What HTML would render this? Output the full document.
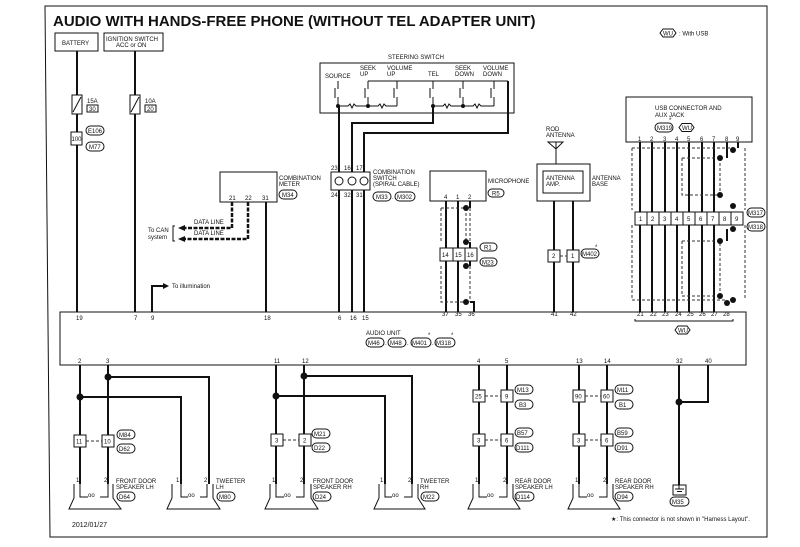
<!DOCTYPE html>
<html><head><meta charset="utf-8"><style>
body{margin:0;background:#fff}
svg{display:block}
text{font-family:"Liberation Sans",sans-serif;fill:#111}
.s{font-size:6px}
.p{font-size:6px}
.w{stroke:#111;stroke-width:2;fill:none}
.t{stroke:#111;stroke-width:1;fill:none}
.d{stroke:#333;stroke-width:1;fill:none;stroke-dasharray:3,2}
.b{fill:#fff;stroke:#111;stroke-width:1}
.o{fill:#fff;stroke:#111;stroke-width:1}
</style></head><body>
<svg width="800" height="547" viewBox="0 0 800 547" xmlns="http://www.w3.org/2000/svg">
<rect x="0" y="0" width="800" height="547" fill="#fff"/>
<path d="M45 6 H767 V537 H50 Z" class="t"/>
<text x="53" y="26" style="font-size:15px;font-weight:bold">AUDIO WITH HANDS-FREE PHONE (WITHOUT TEL ADAPTER UNIT)</text>
<!-- legend -->
<path d="M660 33 l3 -4 h10 l3 4 l-3 4 h-10 z" class="o"/><text x="663" y="35.5" class="s">WU</text><text x="679" y="35.5" class="s">: With USB</text>
<!-- battery/ignition -->
<rect x="55" y="33" width="43" height="18" class="b"/><text x="62" y="45" class="s">BATTERY</text>
<rect x="104" y="33" width="59" height="18" class="b"/><text x="106" y="41" class="s">IGNITION SWITCH</text><text x="116" y="47" class="s">ACC or ON</text>
<path d="M77 51 V312 M135 51 V312" class="w"/>
<rect x="72" y="95" width="10" height="19" class="b"/><path d="M73 112 L81 97" class="t"/>
<rect x="130" y="95" width="10" height="19" class="b"/><path d="M131 112 L139 97" class="t"/>
<text x="87" y="103" class="s">15A</text><rect x="87" y="105" width="11" height="7" class="b"/><text x="89" y="111" class="s">30</text>
<text x="145" y="103" class="s">10A</text><rect x="145" y="105" width="11" height="7" class="b"/><text x="147" y="111" class="s">20</text>
<rect x="71" y="132" width="11" height="13" class="b"/><text x="71.5" y="141" class="s">100</text>
<rect x="86" y="126" width="18" height="9" rx="4.5" class="o"/><text x="88" y="133" class="s">E106</text>
<rect x="86" y="142" width="18" height="9" rx="4.5" class="o"/><text x="89" y="149" class="s">M77</text>
<!-- illumination -->
<path d="M152 312 V286 H163" class="w"/><path d="M163 283 L169 286 L163 289 Z" fill="#111"/><text x="172" y="288" class="s">To illumination</text>
<!-- combination meter -->
<rect x="220" y="172" width="57" height="30" class="b"/>
<text x="229" y="200" class="s">21</text><text x="245" y="200" class="s">22</text><text x="262" y="200" class="s">31</text>
<text x="279" y="180" class="s">COMBINATION</text><text x="279" y="186" class="s">METER</text>
<rect x="279" y="190" width="18" height="9" rx="4.5" class="o"/><text x="282" y="197" class="s">M34</text>
<path d="M266 202 V312" class="w"/>
<path d="M232 202 V228 H185 M248 202 V239 H185" stroke="#111" stroke-width="2.5" fill="none" stroke-dasharray="4,1.5"/>
<path d="M178 228 L185 225 V231 Z M178 239 L185 236 V242 Z" fill="#111"/>
<text x="194" y="224" class="s">DATA LINE</text><text x="194" y="235" class="s">DATA LINE</text>
<text x="148" y="232" class="s">To CAN</text><text x="148" y="239" class="s">system</text><path d="M175 226 h-2 v15 h2" class="t"/>
<!-- steering switch -->
<text x="388" y="59" class="s">STEERING SWITCH</text>
<rect x="320" y="63" width="194" height="50" class="b"/>
<text x="325" y="78" class="s">SOURCE</text><text x="360" y="70" class="s">SEEK</text><text x="360" y="76" class="s">UP</text>
<text x="387" y="70" class="s">VOLUME</text><text x="387" y="76" class="s">UP</text><text x="428" y="76" class="s">TEL</text>
<text x="455" y="70" class="s">SEEK</text><text x="455" y="76" class="s">DOWN</text><text x="483" y="70" class="s">VOLUME</text><text x="483" y="76" class="s">DOWN</text>
<path d="M368 81 H508 M338 81 V86 M368 81 V86 M397 81 V86 M433 81 V86 M463 81 V86 M494 81 V86" class="t"/>
<g class="t">
<path d="M338 86 v3 M338 97 v9 M335 88 v10"/><path d="M368 86 v3 M368 97 v9 M365 88 v10"/><path d="M397 86 v3 M397 97 v9 M394 88 v10"/>
<path d="M433 86 v3 M433 97 v9 M430 88 v10"/><path d="M463 86 v3 M463 97 v9 M460 88 v10"/><path d="M494 86 v3 M494 97 v9 M491 88 v10"/>
<path d="M338 106 H348 l2 -2 l2 4 l2 -4 l2 2 H368 H378 l2 -2 l2 4 l2 -4 l2 2 H397 M433 106 H443 l2 -2 l2 4 l2 -4 l2 2 H463 H473 l2 -2 l2 4 l2 -4 l2 2 H494"/>
</g>
<g fill="#111"><circle cx="338" cy="106" r="2"/><circle cx="368" cy="106" r="2"/><circle cx="433" cy="106" r="2"/><circle cx="463" cy="106" r="2"/></g>
<path d="M339 106 V172 M352 172 V123 H433 V106 M364 172 V133 H508 V81" class="w"/>
<!-- combination switch -->
<rect x="331" y="172" width="39" height="18" class="b"/>
<circle cx="339" cy="181" r="4" class="o"/><circle cx="352" cy="181" r="4" class="o"/><circle cx="364" cy="181" r="4" class="o"/>
<text x="331" y="170" class="s">23</text><text x="344" y="170" class="s">16</text><text x="356" y="170" class="s">17</text>
<text x="331" y="197" class="s">24</text><text x="344" y="197" class="s">32</text><text x="356" y="197" class="s">31</text>
<text x="373" y="174" class="s">COMBINATION</text><text x="373" y="180" class="s">SWITCH</text><text x="373" y="186" class="s">(SPIRAL CABLE)</text>
<rect x="373" y="192" width="18" height="9" rx="4.5" class="o"/><text x="376" y="199" class="s">M33</text><text x="392" y="199" class="s">.</text>
<rect x="395" y="192" width="20" height="9" rx="4.5" class="o"/><text x="397" y="199" class="s">M302</text>
<path d="M339 190 V312 M352 190 V312 M364 190 V312" class="w"/>
<!-- microphone -->
<rect x="430" y="171" width="56" height="30" class="b"/>
<text x="444" y="199" class="s">4</text><text x="456" y="199" class="s">1</text><text x="468" y="199" class="s">2</text>
<text x="488" y="183" class="s">MICROPHONE</text><rect x="488" y="189" width="16" height="8" rx="4" class="o"/><text x="492" y="195.5" class="s">R5</text>
<path d="M446 201 V312 M458 201 V312 M470 201 V208 M470 242 V266 M470 302 H474 V312" class="w"/>
<path d="M470 208 V242 M441 208 H466 V242 M441 208 V242 M441 266 V302 H466 M470 266 V302" class="d"/>
<g fill="#111"><circle cx="466" cy="208" r="3"/><circle cx="466" cy="242" r="3"/><circle cx="466" cy="266" r="3"/><circle cx="466" cy="302" r="3"/></g>
<rect x="440" y="248" width="13" height="13" class="b"/><rect x="453" y="248" width="12" height="13" class="b"/><rect x="465" y="248" width="12" height="13" class="b"/>
<text x="442" y="257" class="s">14</text><text x="455" y="257" class="s">15</text><text x="467" y="257" class="s">16</text>
<rect x="480" y="243" width="17" height="8" rx="4" class="o"/><text x="484" y="249.5" class="s">R1</text>
<rect x="480" y="258" width="17" height="8" rx="4" class="o"/><text x="482" y="264.5" class="s">M23</text>
<!-- antenna -->
<text x="546" y="131" class="s">ROD</text><text x="546" y="137" class="s">ANTENNA</text>
<path d="M548 142 H563 L556 149 Z" class="t"/><path d="M556 142 V164" class="t"/>
<rect x="537" y="164" width="53" height="37" class="b"/><rect x="543" y="171" width="40" height="22" class="b"/>
<text x="546" y="180" class="s">ANTENNA</text><text x="546" y="186" class="s">AMP.</text>
<text x="592" y="180" class="s">ANTENNA</text><text x="592" y="186" class="s">BASE</text>
<path d="M554 201 V312 M573 201 V312" class="w"/>
<rect x="548" y="250" width="12" height="12" class="b"/><text x="552" y="258" class="s">2</text>
<rect x="567" y="250" width="12" height="12" class="b"/><text x="571" y="258" class="s">1</text><path d="M560 256 h7" class="d"/>
<rect x="581" y="249" width="18" height="9" rx="4.5" class="o"/><text x="582" y="256" class="s">M402</text><text x="595" y="249" class="s">*</text>
<!-- USB -->
<rect x="626" y="97" width="126" height="45" class="b"/>
<text x="655" y="110" class="s">USB CONNECTOR AND</text><text x="655" y="117" class="s">AUX JACK</text>
<rect x="655" y="123" width="18" height="9" rx="4.5" class="o"/><text x="657" y="130" class="s">M319</text><text x="669" y="122" class="s">*</text>
<path d="M679 127.5 l3 -4 h9 l3 4 l-3 4 h-9 z" class="o"/><text x="682" y="130" class="s">WU</text>
<g class="s"><text x="638" y="141">1</text><text x="650" y="141">2</text><text x="663" y="141">3</text><text x="675" y="141">4</text><text x="687" y="141">5</text><text x="700" y="141">6</text><text x="712" y="141">7</text><text x="725" y="141">8</text><text x="736" y="141">9</text></g>
<path d="M640 142 V312 M652 142 V312 M665 142 V312 M677 142 V312 M689 142 V312 M702 142 V312 M714 142 V312 M727 142 V158 M738 142 V148 M727 229 V241" class="w"/>
<path d="M632 148 H733 M632 148 V210 M745 148 V210 M682 158 H720 M682 158 V195 H720 M720 158 V195 M632 225 V300 M745 225 V300 M682 241 H720 V296 M682 241 V296 H720 M632 300 H726" class="d"/>
<g fill="#111"><circle cx="733" cy="150" r="3"/><circle cx="720" cy="158" r="3"/><circle cx="720" cy="195" r="3"/><circle cx="733" cy="206" r="3"/><circle cx="733" cy="229" r="3"/><circle cx="720" cy="241" r="3"/><circle cx="720" cy="296" r="3"/><circle cx="733" cy="300" r="3"/><circle cx="727" cy="303" r="3"/></g>
<g class="b"><rect x="635" y="212" width="12" height="13"/><rect x="647" y="212" width="12" height="13"/><rect x="659" y="212" width="12" height="13"/><rect x="671" y="212" width="12" height="13"/><rect x="683" y="212" width="12" height="13"/><rect x="695" y="212" width="12" height="13"/><rect x="707" y="212" width="12" height="13"/><rect x="719" y="212" width="12" height="13"/><rect x="731" y="212" width="12" height="13"/></g>
<g class="s"><text x="639" y="221">1</text><text x="651" y="221">2</text><text x="663" y="221">3</text><text x="675" y="221">4</text><text x="687" y="221">5</text><text x="699" y="221">6</text><text x="711" y="221">7</text><text x="723" y="221">8</text><text x="735" y="221">9</text></g>
<rect x="747" y="208" width="18" height="9" rx="4.5" class="o"/><text x="748" y="215" class="s">M317</text>
<rect x="747" y="222" width="18" height="9" rx="4.5" class="o"/><text x="748" y="229" class="s">M318</text>
<!-- audio unit -->
<rect x="60" y="312" width="686" height="53" class="b"/>
<g class="p"><text x="76" y="320">19</text><text x="134" y="320">7</text><text x="151" y="320">9</text><text x="264" y="320">18</text><text x="338" y="320">6</text><text x="350" y="320">16</text><text x="362" y="320">15</text><text x="442" y="316">37</text><text x="455" y="316">35</text><text x="468" y="316">36</text><text x="551" y="316">41</text><text x="570" y="316">42</text>
<text x="637" y="316">21</text><text x="650" y="316">22</text><text x="662" y="316">23</text><text x="675" y="316">24</text><text x="687" y="316">25</text><text x="699" y="316">26</text><text x="711" y="316">27</text><text x="723" y="316">28</text>
<text x="78" y="363">2</text><text x="106" y="363">3</text><text x="274" y="363">11</text><text x="302" y="363">12</text><text x="477" y="363">4</text><text x="505" y="363">5</text><text x="576" y="363">13</text><text x="604" y="363">14</text><text x="676" y="363">32</text><text x="705" y="363">40</text></g>
<path d="M635 319 v2 H733 v-2" class="t"/>
<path d="M675 330 l3 -4 h9 l3 4 l-3 4 h-9 z" class="o"/><text x="678" y="332.5" class="s">WU</text>
<text x="366" y="335" class="s">AUDIO UNIT</text>
<rect x="366" y="338" width="18" height="9" rx="4.5" class="o"/><text x="368" y="345" class="s">M46</text><text x="385" y="345" class="s">.</text>
<rect x="388" y="338" width="18" height="9" rx="4.5" class="o"/><text x="390" y="345" class="s">M48</text><text x="407" y="345" class="s">.</text>
<rect x="411" y="338" width="20" height="9" rx="4.5" class="o"/><text x="412" y="345" class="s">M401</text><text x="428" y="337" class="s">*</text><text x="432" y="345" class="s">.</text>
<rect x="435" y="338" width="20" height="9" rx="4.5" class="o"/><text x="436" y="345" class="s">M318</text><text x="451" y="337" class="s">*</text>
<!-- front LH -->
<path d="M80 365 V484 M108 365 V484 M80 397 H181 V484 M108 377 H209 V484" class="w"/>
<g fill="#111"><circle cx="80" cy="397" r="3.5"/><circle cx="108" cy="377" r="3.5"/><circle cx="276" cy="396" r="3.5"/><circle cx="304" cy="376" r="3.5"/><circle cx="679" cy="402" r="3.5"/></g>
<rect x="74" y="435" width="12" height="12" class="b"/><text x="76" y="443.5" class="s">11</text>
<rect x="102" y="435" width="12" height="12" class="b"/><text x="104" y="443.5" class="s">10</text><path d="M86 441 h16" class="d"/>
<rect x="117" y="430" width="18" height="9" rx="4.5" class="o"/><text x="119" y="437" class="s">M84</text>
<rect x="117" y="444" width="18" height="9" rx="4.5" class="o"/><text x="119" y="451" class="s">D62</text>
<!-- front RH -->
<path d="M276 365 V484 M304 365 V484 M276 396 H385 V484 M304 376 H412 V484" class="w"/>
<rect x="271" y="434" width="12" height="12" class="b"/><text x="275" y="442.5" class="s">3</text>
<rect x="299" y="434" width="12" height="12" class="b"/><text x="303" y="442.5" class="s">2</text><path d="M283 440 h16" class="d"/>
<rect x="312" y="429" width="18" height="9" rx="4.5" class="o"/><text x="314" y="436" class="s">M21</text>
<rect x="312" y="443" width="18" height="9" rx="4.5" class="o"/><text x="314" y="450" class="s">D22</text>
<!-- rear LH -->
<path d="M479 365 V484 M507 365 V484" class="w"/>
<rect x="473" y="390" width="12" height="12" class="b"/><text x="475" y="398.5" class="s">25</text>
<rect x="501" y="390" width="12" height="12" class="b"/><text x="505" y="398.5" class="s">9</text><path d="M485 396 h16" class="d"/>
<rect x="515" y="385" width="18" height="9" rx="4.5" class="o"/><text x="517" y="392" class="s">M13</text>
<rect x="515" y="400" width="18" height="9" rx="4.5" class="o"/><text x="519" y="407" class="s">B3</text>
<rect x="473" y="434" width="12" height="12" class="b"/><text x="477" y="442.5" class="s">3</text>
<rect x="501" y="434" width="12" height="12" class="b"/><text x="505" y="442.5" class="s">6</text><path d="M485 440 h16" class="d"/>
<rect x="515" y="428" width="18" height="9" rx="4.5" class="o"/><text x="517" y="435" class="s">B57</text>
<rect x="515" y="443" width="18" height="9" rx="4.5" class="o"/><text x="516" y="450" class="s">D111</text>
<!-- rear RH -->
<path d="M579 365 V484 M607 365 V484" class="w"/>
<rect x="573" y="390" width="12" height="12" class="b"/><text x="575" y="398.5" class="s">90</text>
<rect x="601" y="390" width="12" height="12" class="b"/><text x="603" y="398.5" class="s">60</text><path d="M585 396 h16" class="d"/>
<rect x="615" y="385" width="18" height="9" rx="4.5" class="o"/><text x="617" y="392" class="s">M11</text>
<rect x="615" y="400" width="18" height="9" rx="4.5" class="o"/><text x="619" y="407" class="s">B1</text>
<rect x="573" y="434" width="12" height="12" class="b"/><text x="577" y="442.5" class="s">3</text>
<rect x="601" y="434" width="12" height="12" class="b"/><text x="605" y="442.5" class="s">6</text><path d="M585 440 h16" class="d"/>
<rect x="615" y="428" width="18" height="9" rx="4.5" class="o"/><text x="617" y="435" class="s">B59</text>
<rect x="615" y="443" width="18" height="9" rx="4.5" class="o"/><text x="617" y="450" class="s">D91</text>
<!-- ground -->
<path d="M679 365 V485 M708 365 V402 H679" class="w"/>
<rect x="673" y="485" width="13" height="10" class="b"/><path d="M675 489 h9 M677 491.5 h5 M679 485 v4" class="t"/>
<rect x="670" y="497" width="19" height="9" rx="4.5" class="o"/><text x="672" y="504" class="s">M35</text>
<!-- speakers -->
<g class="t">
<path d="M74 484 V498 L69 509 H121 L113 498 V484"/><path d="M80 484 V497 H88 M100 497 H108 V484"/>
<path d="M172 484 V498 L167 509 H220 L213 498 V484"/><path d="M181 484 V497 H188 M200 497 H207 V484"/>
<path d="M270 484 V498 L265 509 H318 L311 498 V484"/><path d="M276 484 V497 H284 M296 497 H304 V484"/>
<path d="M379 484 V498 L374 509 H425 L418 498 V484"/><path d="M385 484 V497 H392 M404 497 H412 V484"/>
<path d="M473 484 V498 L468 509 H520 L513 498 V484"/><path d="M479 484 V497 H487 M499 497 H507 V484"/>
<path d="M573 484 V498 L568 509 H620 L613 498 V484"/><path d="M579 484 V497 H587 M599 497 H607 V484"/>
</g>
<g class="s">
<text x="88" y="497">oo</text><text x="188" y="497">oo</text><text x="284" y="497">oo</text><text x="392" y="497">oo</text><text x="487" y="497">oo</text><text x="587" y="497">oo</text>
<text x="76" y="482">1</text><text x="104" y="482">2</text><text x="176" y="482">1</text><text x="204" y="482">2</text><text x="272" y="482">1</text><text x="300" y="482">2</text><text x="380" y="482">1</text><text x="408" y="482">2</text><text x="475" y="482">1</text><text x="503" y="482">2</text><text x="575" y="482">1</text><text x="603" y="482">2</text>
<text x="116" y="483">FRONT DOOR</text><text x="116" y="489">SPEAKER LH</text>
<text x="216" y="483">TWEETER</text><text x="216" y="489">LH</text>
<text x="313" y="483">FRONT DOOR</text><text x="313" y="489">SPEAKER RH</text>
<text x="420" y="483">TWEETER</text><text x="420" y="489">RH</text>
<text x="515" y="483">REAR DOOR</text><text x="515" y="489">SPEAKER LH</text>
<text x="615" y="483">REAR DOOR</text><text x="615" y="489">SPEAKER RH</text>
</g>
<rect x="117" y="492" width="18" height="9" rx="4.5" class="o"/><text x="119" y="499" class="s">D64</text>
<rect x="217" y="492" width="18" height="9" rx="4.5" class="o"/><text x="219" y="499" class="s">M80</text>
<rect x="313" y="492" width="18" height="9" rx="4.5" class="o"/><text x="315" y="499" class="s">D24</text>
<rect x="421" y="492" width="18" height="9" rx="4.5" class="o"/><text x="423" y="499" class="s">M22</text>
<rect x="515" y="492" width="19" height="9" rx="4.5" class="o"/><text x="516" y="499" class="s">D114</text>
<rect x="615" y="492" width="18" height="9" rx="4.5" class="o"/><text x="617" y="499" class="s">D94</text>
<text x="72" y="527" style="font-size:7px">2012/01/27</text>
<text x="611" y="521" class="s">★: This connector is not shown in "Harness Layout".</text>
</svg>
</body></html>
